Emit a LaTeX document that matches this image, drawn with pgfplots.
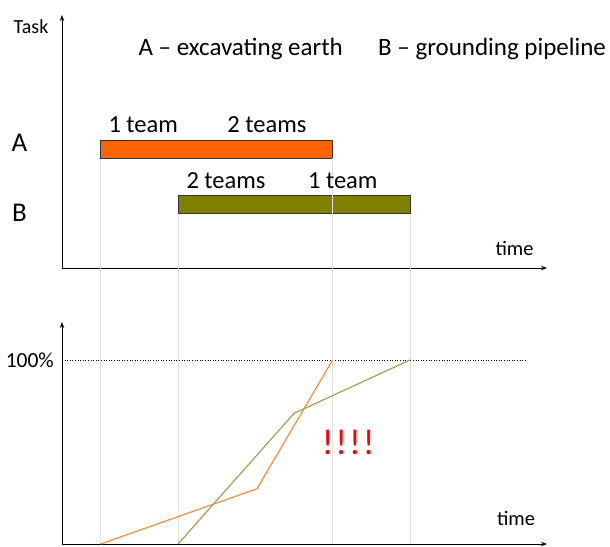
\documentclass[border=0pt]{standalone}
\usepackage{pgfplots}
\pgfplotsset{compat=1.18}
\usepackage{fontspec}
\setmainfont{Carlito}
\usetikzlibrary{arrows.meta}
\definecolor{barA}{RGB}{255,102,0}
\definecolor{barB}{RGB}{128,128,0}
\definecolor{lineA}{RGB}{248,140,70}
\definecolor{lineB}{RGB}{155,162,85}
\definecolor{guide}{RGB}{225,225,225}
\newcommand{\fs}[1]{\fontsize{#1}{#1}\selectfont}
\begin{document}
\begin{tikzpicture}
\path (0pt,0pt) rectangle (610pt,-545pt);
% ---------- top panel ----------
\begin{axis}[
  at={(62pt,-268pt)}, anchor=south west,
  scale only axis, width=485pt, height=253pt,
  xmin=0, xmax=6.27, ymin=0, ymax=253,
  axis x line=bottom, axis y line=left,
  axis line style={line width=0.9pt,-{Stealth[length=6pt,width=4.5pt]}},
  ticks=none, clip=false,
]
% guide lines
\addplot[guide, line width=0.6pt] coordinates {(0.5,110) (0.5,-276)};
\addplot[guide, line width=0.6pt] coordinates {(1.5,55) (1.5,-276)};
\addplot[guide, line width=0.6pt] coordinates {(4.5,55) (4.5,-276)};
% bars
\addplot[fill=barA, draw=black!80, line width=0.6pt] coordinates {(0.5,110) (3.5,110) (3.5,128) (0.5,128)} -- cycle;
\addplot[fill=barB, draw=black!80, line width=0.6pt] coordinates {(1.5,55) (4.5,55) (4.5,73) (1.5,73)} -- cycle;
\addplot[guide, line width=0.6pt] coordinates {(3.5,110) (3.5,-276)};
% labels
\node[font=\fs{20}] at (axis cs:-0.40,241) {Task};
\node[font=\fs{27}] at (axis cs:-0.55,125) {A};
\node[font=\fs{27}] at (axis cs:-0.55,55) {B};
\node[font=\fs{25}] at (axis cs:2.31,219) {A -- excavating earth};
\node[font=\fs{25}] at (axis cs:5.56,219) {B -- grounding pipeline};
\node[font=\fs{24.5}] at (axis cs:1.05,143) {1 team};
\node[font=\fs{24.5}] at (axis cs:2.65,143) {2 teams};
\node[font=\fs{24.5}] at (axis cs:2.12,87) {2 teams};
\node[font=\fs{24.5}] at (axis cs:3.63,87) {1 team};
\node[font=\fs{20.5}] at (axis cs:5.85,20) {time};
\end{axis}
% ---------- bottom panel ----------
\begin{axis}[
  at={(62pt,-544pt)}, anchor=south west,
  scale only axis, width=485pt, height=222pt,
  xmin=0, xmax=6.27, ymin=0, ymax=120.6,
  axis x line=bottom, axis y line=left,
  axis line style={line width=0.9pt,-{Stealth[length=6pt,width=4.5pt]}},
  ticks=none, clip=false,
]
\addplot[black, dotted, line width=0.6pt] coordinates {(0,100) (6.01,100)};
\addplot[lineA, line width=1.2pt] coordinates {(0.5,0) (2.52,30) (3.5,100)};
\addplot[lineB, line width=1.2pt] coordinates {(1.5,0) (3.0,71) (4.5,100)};
\node[anchor=east, font=\fs{21.5}] at (axis cs:-0.06,100) {100\%};
\node[font=\fs{20.5}] at (axis cs:5.87,13.6) {time};
\node[red, font=\fs{36}] at (axis cs:3.7,55) {!\kern2pt!\kern2pt!\kern2pt!};
\end{axis}
\end{tikzpicture}
\end{document}
